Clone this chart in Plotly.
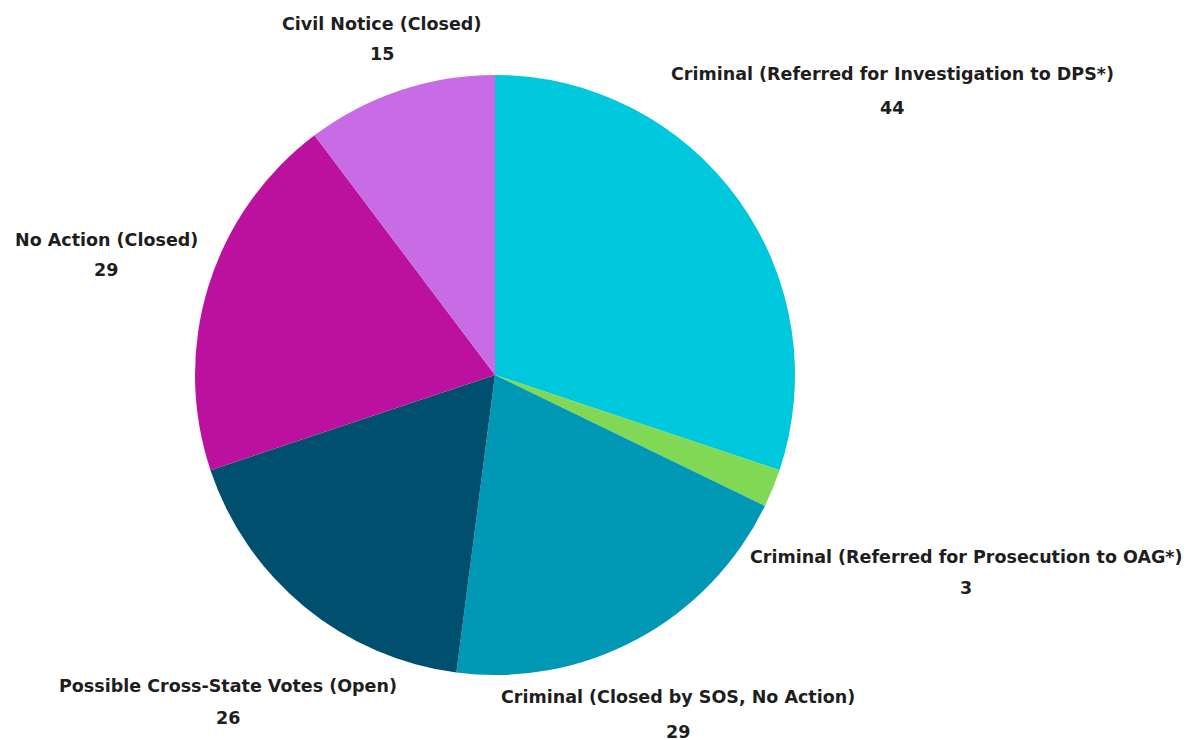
import plotly.graph_objects as go

labels = [
    "Criminal (Referred for Investigation to DPS*)",
    "Criminal (Referred for Prosecution to OAG*)",
    "Criminal (Closed by SOS, No Action)",
    "Possible Cross-State Votes (Open)",
    "No Action (Closed)",
    "Civil Notice (Closed)",
]
values = [44, 3, 29, 26, 29, 15]
colors = ["#00C8DC", "#80D855", "#0098B4", "#004F6E", "#BC119E", "#C86CE6"]

W, H = 1195, 740
OFF = 8  # page body margin
cx, cy, R = 495 - OFF, 375 - OFF, 300

# label placement (page pixels): centre x, label line y, value line y
label_pos = [
    (892, 74, 108),
    (966, 557, 588),
    (678, 697, 732),
    (228, 686, 718),
    (106, 240, 270),
    (382, 24, 54),
]

fig = go.Figure(go.Pie(
    labels=labels,
    values=values,
    sort=False,
    direction="clockwise",
    rotation=0,
    marker=dict(colors=colors, line=dict(width=0)),
    textinfo="none",
    automargin=False,
    showlegend=False,
    hoverinfo="label+value",
    domain=dict(x=[(cx - R) / W, (cx + R) / W], y=[1 - (cy + R) / H, 1 - (cy - R) / H]),
))

font = dict(family="DejaVu Sans", size=17.5, color="#1e1e1e", weight="bold")
anns = []
for lab, val, (px, y1, y2) in zip(labels, values, label_pos):
    for txt, py in ((lab, y1), (str(val), y2)):
        anns.append(dict(
            text=txt, x=(px - OFF) / W, y=1 - (py - OFF) / H,
            xref="paper", yref="paper", xanchor="center", yanchor="middle",
            showarrow=False, font=font,
        ))

fig.update_layout(
    width=W, height=H,
    margin=dict(l=0, r=0, t=0, b=0),
    paper_bgcolor="white",
    plot_bgcolor="white",
    showlegend=False,
    annotations=anns,
)

fig.write_html("out.html")
